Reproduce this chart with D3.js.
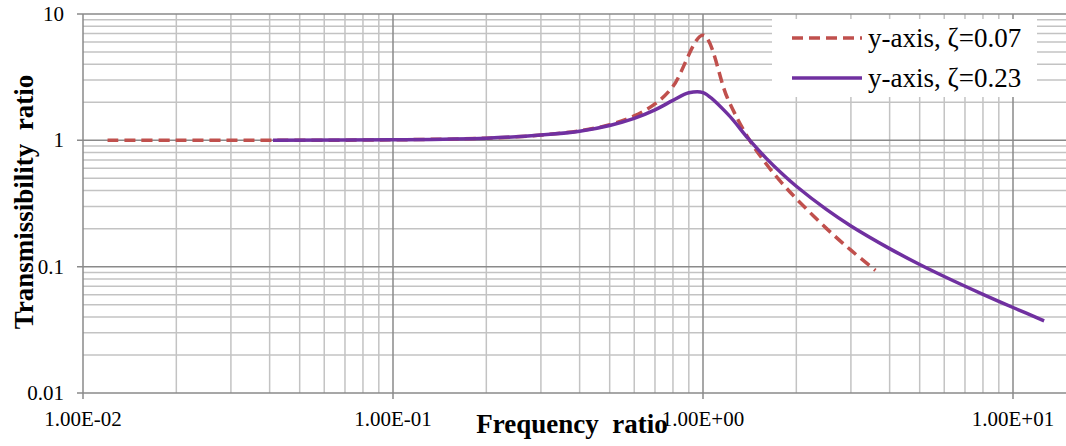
<!DOCTYPE html>
<html>
<head>
<meta charset="utf-8">
<script src="https://cdn.jsdelivr.net/npm/d3@7"></script>
<style>
  body { margin: 0; background: #fff; }
  svg { display: block; font-family: "Liberation Serif", "Times New Roman", serif; }
</style>
</head>
<body>
<svg width="1066" height="446"></svg>
<script>
// frequency ratio r and transmissibility
var rLow = [0.012, 0.02, 0.04, 0.1, 0.2, 0.3, 0.4, 0.5, 0.6, 0.7, 0.8, 1.0, 1.2, 1.4, 1.6, 1.8, 2.0, 2.5, 3.0, 3.6];
var tLow = [1.0, 1.0, 1.0, 1.01, 1.04, 1.10, 1.19, 1.33, 1.56, 1.94, 2.67, 6.8, 2.15, 1.04, 0.65, 0.457, 0.345, 0.201, 0.135, 0.0935];

var rHigh = [0.041, 0.1, 0.2, 0.3, 0.4, 0.5, 0.6, 0.7, 0.8, 0.9, 1.0, 1.2, 1.4, 1.6, 1.8, 2.0, 2.5, 3.0, 4.0, 5.0, 6.0, 8.0, 10.0, 12.6];
var tHigh = [1.0, 1.01, 1.04, 1.10, 1.18, 1.31, 1.49, 1.74, 2.07, 2.38, 2.39, 1.62, 1.03, 0.72, 0.544, 0.433, 0.284, 0.21, 0.139, 0.104, 0.0836, 0.0604, 0.0475, 0.0373];

var seriesNames = ["y-axis, \u03b6=0.07", "y-axis, \u03b6=0.23"];
var seriesColors = ["#c0504d", "#7030a0"];

var xTicks = [0.01, 0.1, 1, 10];
var xTickLabels = ["1.00E-02", "1.00E-01", "1.00E+00", "1.00E+01"];
var yTicks = [0.01, 0.1, 1, 10];
var yTickLabels = ["0.01", "0.1", "1", "10"];

var svg = d3.select("svg");
var pLeft = 83, pRight = 1066, pTop = 14, pBottom = 393;

var x = d3.scaleLog().domain([0.01, 10]).range([pLeft, 1013]);
var y = d3.scaleLog().domain([0.01, 10]).range([pBottom, pTop]);

var grid = svg.append("g");

// minor grid values 2..9 per decade
var minorX = [], minorY = [];
[0.01, 0.1, 1].forEach(function(d) {
  for (var k = 2; k <= 9; k++) { minorX.push(d * k); minorY.push(d * k); }
});

grid.selectAll(".mx").data(minorX).enter().append("line")
  .attr("x1", d => x(d)).attr("x2", d => x(d))
  .attr("y1", pTop).attr("y2", pBottom)
  .attr("stroke", "#c3c3c3").attr("stroke-width", 1.5);
grid.selectAll(".my").data(minorY).enter().append("line")
  .attr("x1", pLeft).attr("x2", pRight)
  .attr("y1", d => y(d)).attr("y2", d => y(d))
  .attr("stroke", "#c3c3c3").attr("stroke-width", 1.5);

grid.selectAll(".Mx").data(xTicks).enter().append("line")
  .attr("x1", d => x(d)).attr("x2", d => x(d))
  .attr("y1", pTop).attr("y2", pBottom + 6)
  .attr("stroke", "#8a8a8a").attr("stroke-width", 1.5);
grid.selectAll(".My").data(yTicks).enter().append("line")
  .attr("x1", pLeft - 6).attr("x2", pRight)
  .attr("y1", d => y(d)).attr("y2", d => y(d))
  .attr("stroke", "#8a8a8a").attr("stroke-width", 1.5);

// tick labels
svg.append("g").selectAll("text").data(xTicks).enter().append("text")
  .attr("x", d => x(d)).attr("y", 426)
  .attr("text-anchor", "middle")
  .attr("font-size", 21)
  .text((d, i) => xTickLabels[i]);

svg.append("g").selectAll("text").data(yTicks).enter().append("text")
  .attr("x", 64).attr("y", d => y(d) + 7)
  .attr("text-anchor", "end")
  .attr("font-size", 21)
  .text((d, i) => yTickLabels[i]);

// curves (smoothed like the spreadsheet lines)
var line = d3.line()
  .x(d => x(d[0]))
  .y(d => y(d[1]))
  .curve(d3.curveCatmullRom.alpha(0.5));

var lowData = rLow.map((r, i) => [r, tLow[i]]);
var highData = rHigh.map((r, i) => [r, tHigh[i]]);

svg.append("path").datum(lowData)
  .attr("d", line)
  .attr("fill", "none")
  .attr("stroke", seriesColors[0])
  .attr("stroke-width", 3.5)
  .attr("stroke-dasharray", "11,6");

svg.append("path").datum(highData)
  .attr("d", line)
  .attr("fill", "none")
  .attr("stroke", seriesColors[1])
  .attr("stroke-width", 3.5);

// legend
var legend = svg.append("g");
legend.append("rect")
  .attr("x", 772).attr("y", 19).attr("width", 265).attr("height", 78)
  .attr("fill", "#fff");
seriesNames.forEach(function(name, i) {
  var ly = 38 + i * 40;
  legend.append("line")
    .attr("x1", 792).attr("x2", 862).attr("y1", ly).attr("y2", ly)
    .attr("stroke", seriesColors[i]).attr("stroke-width", 3.5)
    .attr("stroke-dasharray", i === 0 ? "11,6" : null);
  legend.append("text")
    .attr("x", 868).attr("y", ly + 9)
    .attr("font-size", 27)
    .text(name);
});

// axis titles
svg.append("text")
  .attr("x", 572).attr("y", 433)
  .attr("text-anchor", "middle")
  .attr("font-size", 27).attr("font-weight", "bold")
  .style("white-space", "pre")
  .text("Frequency  ratio");

svg.append("text")
  .attr("transform", "translate(33,202) rotate(-90)")
  .attr("text-anchor", "middle")
  .attr("font-size", 27).attr("font-weight", "bold")
  .style("white-space", "pre")
  .text("Transmissibility  ratio");
</script>
</body>
</html>
